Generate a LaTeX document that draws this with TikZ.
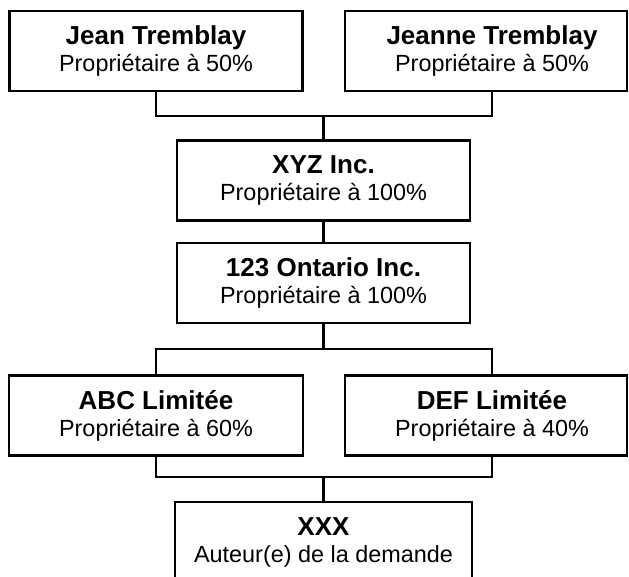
\documentclass[tikz,border=0pt]{standalone}
\usepackage{fontspec}
\setmainfont{Liberation Sans}
\usetikzlibrary{positioning}
\newcommand{\orgtitle}[1]{{\fontsize{26}{27}\selectfont\bfseries #1}}

\begin{document}
\begin{tikzpicture}[x=1pt, y=-1pt,
  orgbox/.style={draw, line width=2.4pt, minimum height=80pt, inner sep=0pt, align=center, font=\fontsize{23.4}{27}\selectfont},
  orgtext/.style={inner sep=0pt, align=center, font=\fontsize{23.4}{27}\selectfont},
  conn/.style={line width=2.4pt}
]
  \useasboundingbox (0,0) rectangle (629,577);
  \clip (0,0) rectangle (629,577);

  % owners
  \node[orgbox, minimum width=293pt] (jean) at (156,51) {\orgtitle{Jean Tremblay}\\Propriétaire à 50\%};
  \node[orgbox, minimum width=282pt] (jeannebox) at (486,51) {};
  \node[orgtext] (jeanne) at (492,51) {\orgtitle{Jeanne Tremblay}\\Propriétaire à 50\%};

  % holding chain
  \node[orgbox, minimum width=293pt] (xyz) at (323.5,180.5) {\orgtitle{XYZ Inc.}\\Propriétaire à 100\%};
  \node[orgbox, minimum width=293pt] (ontario) at (323.5,283) {\orgtitle{123 Ontario Inc.}\\Propriétaire à 100\%};

  % subsidiaries
  \node[orgbox, minimum width=294pt] (abc) at (156,415.5) {\orgtitle{ABC Limitée}\\Propriétaire à 60\%};
  \node[orgbox, minimum width=282pt] (defbox) at (486,415.5) {};
  \node[orgtext] (def) at (492,415.5) {\orgtitle{DEF Limitée}\\Propriétaire à 40\%};

  \node[orgbox, minimum width=297pt] (xxx) at (323.5,542) {\orgtitle{XXX}\\Auteur(e) de la demande};

  \coordinate (j1) at (323.5,116);
  \coordinate (j2) at (323.5,349);
  \coordinate (j3) at (323.5,477);

  \draw[conn] (jean.south) |- (j1) -| (jeanne |- jeannebox.south);
  \draw[conn] (j1) -- (xyz);
  \draw[conn] (xyz) -- (ontario);
  \draw[conn] (ontario) -- (j2);
  \draw[conn] (abc.north) |- (j2) -| (def |- defbox.north);
  \draw[conn] (abc.south) |- (j3) -| (def |- defbox.south);
  \draw[conn] (j3) -- (xxx);
\end{tikzpicture}
\end{document}
